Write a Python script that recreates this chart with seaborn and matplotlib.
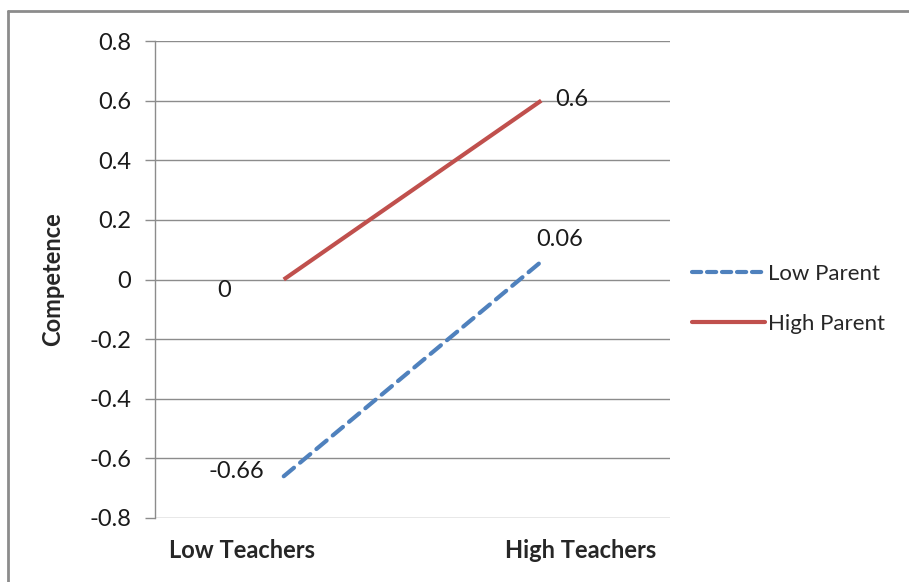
import matplotlib
matplotlib.use("Agg")
import matplotlib.pyplot as plt
from matplotlib.lines import Line2D
from matplotlib.transforms import ScaledTranslation
import seaborn as sns
import pandas as pd

categories = ["Low Teachers", "High Teachers"]
low_parent = [-0.66, 0.06]
high_parent = [0.0, 0.6]
series_names = ["Low Parent", "High Parent"]
y_ticks = [-0.8, -0.6, -0.4, -0.2, 0, 0.2, 0.4, 0.6, 0.8]
y_tick_labels = ["-0.8", "-0.6", "-0.4", "-0.2", "0", "0.2", "0.4", "0.6", "0.8"]

df = pd.DataFrame({
    "Teachers": categories * 2,
    "Competence": low_parent + high_parent,
    "Parent": [series_names[0]] * 2 + [series_names[1]] * 2,
})

sns.set_theme(style="white")
plt.rcParams["font.family"] = ["Lato", "DejaVu Sans"]

FS = 17
fig = plt.figure(figsize=(9.09, 5.82), dpi=100)
ax = fig.add_axes([155 / 909, 1 - 518 / 582, 515 / 909, 477 / 582])

colors = {"Low Parent": "#4F81BD", "High Parent": "#C0504D"}
sns.lineplot(data=df, x="Teachers", y="Competence", hue="Parent", style="Parent",
             palette=colors, dashes={"Low Parent": (3.2, 1.9), "High Parent": ""},
             linewidth=3, ax=ax, legend=False, sort=False)
for ln in ax.get_lines():
    ln.set_dash_capstyle("round")
    ln.set_solid_capstyle("butt")

ax.set_xlim(-0.5, 1.5)
ax.set_ylim(-0.8, 0.8)
ax.set_yticks(y_ticks)
ax.set_yticklabels(y_tick_labels)
ax.yaxis.grid(True, color="#8c8c8c", linewidth=1)
ax.set_axisbelow(True)
for side in ["top", "right", "bottom"]:
    ax.spines[side].set_visible(False)
ax.spines["left"].set_color("#8c8c8c")
ax.spines["left"].set_linewidth(1)
ax.tick_params(axis="y", which="major", left=True, length=7, width=1,
               color="#8c8c8c", labelsize=FS, labelcolor="#1a1a1a", pad=10)
ax.tick_params(axis="x", bottom=False, labelsize=FS, pad=9)
# category labels sit spread outward from the category centres
shifts = [-0.42, 0.39]
for lab, dx in zip(ax.get_xticklabels(), shifts):
    lab.set_fontweight("bold")
    lab.set_transform(lab.get_transform() + ScaledTranslation(dx, 0, fig.dpi_scale_trans))
ax.set_xlabel("")
ax.set_ylabel("Competence", fontsize=FS, fontweight="bold", labelpad=18)

# value labels next to each point
label_style = dict(fontsize=FS, color="#1a1a1a", textcoords="offset pixels")
ax.annotate(f"{high_parent[1]:g}", (1, high_parent[1]), xytext=(14, 1),
            ha="left", va="center", **label_style)
ax.annotate(f"{low_parent[1]:g}", (1, low_parent[1]), xytext=(-5, 22),
            ha="left", va="center", **label_style)
ax.annotate(f"{high_parent[0]:g}", (0, high_parent[0]), xytext=(-60, -11),
            ha="center", va="center", **label_style)
ax.annotate(f"{low_parent[0]:g}", (0, low_parent[0]), xytext=(-20, 5),
            ha="right", va="center", **label_style)

handles = [
    Line2D([], [], color=colors["Low Parent"], linewidth=3, dashes=(2.2, 1.4),
           dash_capstyle="round"),
    Line2D([], [], color=colors["High Parent"], linewidth=3),
]
fig.legend(handles, series_names, loc="center left",
           bbox_to_anchor=(692 / 909, 1 - 299 / 582), frameon=False,
           borderpad=0, borderaxespad=0,
           fontsize=16, handlelength=3.3, handletextpad=0.14, labelspacing=1.35)

# outer frame (left and top edges)
fx = 8 / 909
fy = 1 - 11 / 582
fig.add_artist(Line2D([fx, fx], [0, fy], transform=fig.transFigure,
                      color="#8c8c8c", linewidth=2))
fig.add_artist(Line2D([fx, 1], [fy, fy], transform=fig.transFigure,
                      color="#8c8c8c", linewidth=2))

fig.savefig("out.png", dpi=100, facecolor="white")
